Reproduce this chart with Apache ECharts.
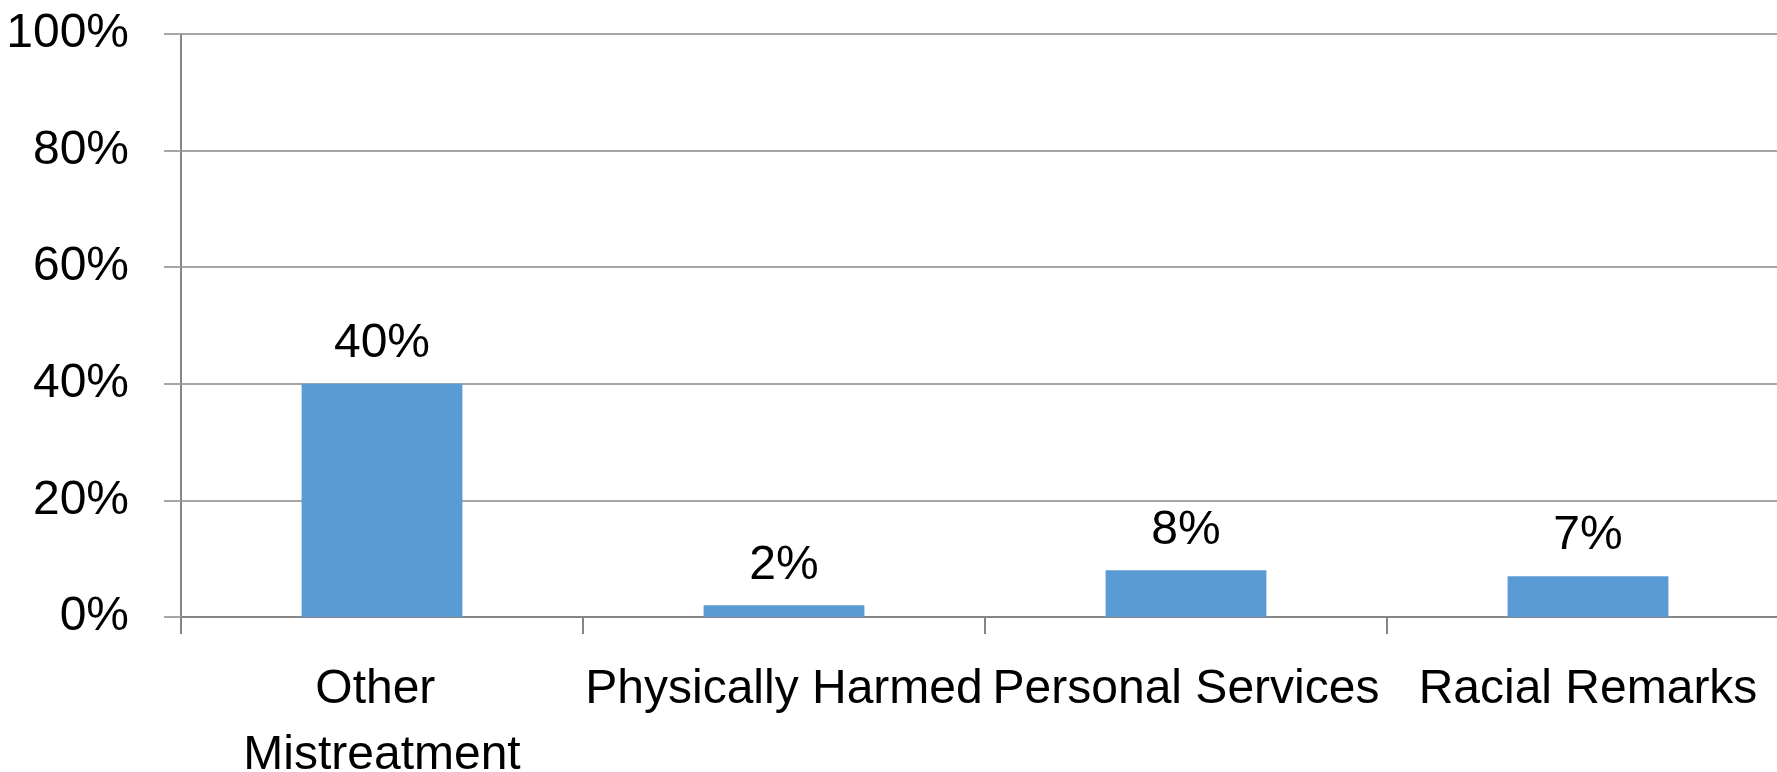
<!DOCTYPE html>
<html>
<head>
<meta charset="utf-8">
<script src="https://cdn.jsdelivr.net/npm/echarts@6/dist/echarts.min.js"></script>
<style>
  html, body { margin: 0; padding: 0; background: #fff; }
  #chart { width: 1777px; height: 772px; }
</style>
</head>
<body>
<div id="chart"></div>
<script>
// Share of respondents reporting each kind of treatment
const categories = ['Other Mistreatment', 'Physically Harmed', 'Personal Services', 'Racial Remarks'];
const shares = [40, 2, 8, 7];
const yTicks = [0, 20, 40, 60, 80, 100];

const FONT = '"Liberation Sans", Arial, sans-serif';
const chart = echarts.init(document.getElementById('chart'));

chart.setOption({
  animation: false,
  backgroundColor: '#ffffff',
  grid: {
    left: 181, right: -12, top: 34, bottom: 155,
    containLabel: false,
    outerBoundsMode: 'none'
  },
  xAxis: {
    type: 'category',
    data: categories,
    axisLine: { lineStyle: { color: '#868686', width: 2 } },
    axisTick: { show: true, length: 17, alignWithLabel: false, lineStyle: { color: '#868686', width: 2 } },
    axisLabel: {
      color: '#000',
      fontFamily: FONT,
      fontSize: 48,
      lineHeight: 66,
      margin: 40,
      interval: 0,
      width: 400,
      overflow: 'break'
    },
    splitLine: { show: false }
  },
  yAxis: {
    type: 'value',
    min: yTicks[0],
    max: yTicks[yTicks.length - 1],
    interval: yTicks[1] - yTicks[0],
    axisLine: { show: true, lineStyle: { color: '#868686', width: 2 } },
    axisTick: { show: true, length: 17, lineStyle: { color: '#a6a6a6', width: 2 } },
    axisLabel: {
      color: '#000',
      fontFamily: FONT,
      fontSize: 48,
      margin: 52,
      formatter: v => v + '%'
    },
    splitLine: { show: true, lineStyle: { color: '#a6a6a6', width: 2 } }
  },
  series: [{
    type: 'bar',
    data: shares,
    barCategoryGap: '60%',
    itemStyle: { color: '#5b9bd5' },
    label: {
      show: true,
      position: 'top',
      distance: 16,
      color: '#000',
      fontFamily: FONT,
      fontSize: 48,
      formatter: p => p.value + '%'
    }
  }]
});
</script>
</body>
</html>
